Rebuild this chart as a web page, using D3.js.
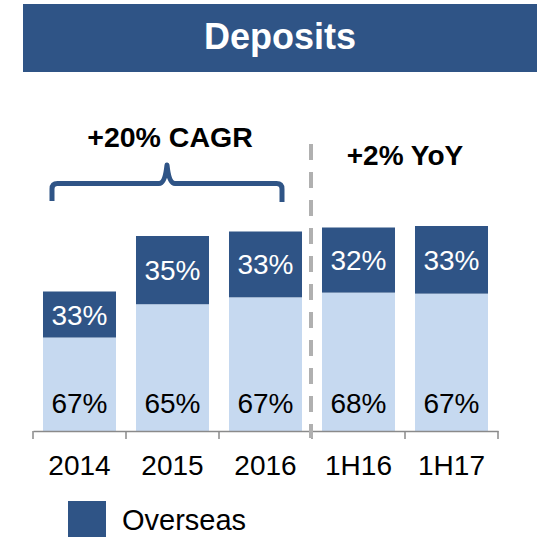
<!DOCTYPE html>
<html>
<head>
<meta charset="utf-8">
<script src="https://cdn.jsdelivr.net/npm/d3@7"></script>
<style>
  html, body { margin: 0; padding: 0; background: #fff; }
  svg { display: block; font-family: "Liberation Sans", Arial, sans-serif; }
</style>
</head>
<body>
<svg id="chart" width="537" height="537"></svg>
<script>
// Deposits by period: total balance (index units) and the domestic / overseas split in %
const categories = ["2014", "2015", "2016", "1H16", "1H17"];
const totals = [139.5, 195, 199.5, 203.5, 205];
const domesticShare = [67, 65, 67, 68, 67];
const overseasShare = [33, 35, 33, 32, 33];
const legendLabels = ["Overseas"];
const titleText = "Deposits";
const cagrText = "+20% CAGR";
const yoyText = "+2% YoY";

const DARK = "#2f5486";
const LIGHT = "#c6d9f0";
const AXIS = "#8a8a8a";

const svg = d3.select("#chart");

// Title banner
svg.append("rect").attr("x", 23).attr("y", 4).attr("width", 514).attr("height", 68).attr("fill", DARK);
svg.append("text").attr("x", 280).attr("y", 49).attr("text-anchor", "middle")
  .attr("font-size", 36).attr("font-weight", "bold").attr("fill", "#fff").text(titleText);

// Scales
const x = d3.scaleBand().domain(categories).range([33, 498]).paddingInner(0.215).paddingOuter(0.1075);
const y = d3.scaleLinear().domain([0, 250]).range([431, 181]);

const rows = categories.map((c, i) => {
  const dom = totals[i] * domesticShare[i] / 100;
  const ovs = totals[i] * overseasShare[i] / 100;
  return { cat: c, dom, ovs, domPct: domesticShare[i], ovsPct: overseasShare[i] };
});
const stack = d3.stack().keys(["dom", "ovs"])(rows);
const colors = { dom: LIGHT, ovs: DARK };

// Stacked bars
const layers = svg.append("g").selectAll("g").data(stack).join("g").attr("fill", d => colors[d.key]);
layers.selectAll("rect").data(d => d).join("rect")
  .attr("x", d => x(d.data.cat))
  .attr("width", x.bandwidth())
  .attr("y", d => y(d[1]))
  .attr("height", d => y(d[0]) - y(d[1]));

// Segment labels
svg.append("g").selectAll("text").data(stack[1]).join("text")
  .attr("x", d => x(d.data.cat) + x.bandwidth() / 2)
  .attr("y", d => (y(d[0]) + y(d[1])) / 2 + 10)
  .attr("text-anchor", "middle").attr("font-size", 28).attr("fill", "#fff")
  .text(d => d.data.ovsPct + "%");
svg.append("g").selectAll("text").data(stack[0]).join("text")
  .attr("x", d => x(d.data.cat) + x.bandwidth() / 2)
  .attr("y", 413)
  .attr("text-anchor", "middle").attr("font-size", 28).attr("fill", "#000")
  .text(d => d.data.domPct + "%");

// Category axis
const axis = svg.append("g").attr("transform", "translate(0,431)")
  .call(d3.axisBottom(x).tickSize(0).tickPadding(24));
axis.select(".domain").attr("stroke", AXIS).attr("stroke-width", 1.5);
axis.selectAll("text").attr("font-size", 28).attr("fill", "#000")
  .attr("font-family", "'Liberation Sans', Arial, sans-serif");
const bounds = d3.range(categories.length + 1).map(i => x.range()[0] + i * x.step());
axis.selectAll("line.sep").data(bounds).join("line").attr("class", "sep")
  .attr("x1", d => d).attr("x2", d => d).attr("y1", 0).attr("y2", 8)
  .attr("stroke", AXIS).attr("stroke-width", 1.5);

// Divider between annual and half-year figures
svg.append("line").attr("x1", 311).attr("x2", 311).attr("y1", 144).attr("y2", 438)
  .attr("stroke", "#b0b0b0").attr("stroke-width", 4).attr("stroke-dasharray", "16,12");

// Growth bracket over the annual bars
svg.append("path")
  .attr("d", "M52,201 V189 Q52,183.5 57.5,183.5 H159 Q165,183.5 167,165 Q169,183.5 175,183.5 H276.5 Q282,183.5 282,189 V202")
  .attr("fill", "none").attr("stroke", DARK).attr("stroke-width", 5).attr("stroke-linejoin", "round");

svg.append("text").attr("x", 170).attr("y", 147).attr("text-anchor", "middle")
  .attr("font-size", 28.5).attr("font-weight", "bold").attr("fill", "#000").text(cagrText);
svg.append("text").attr("x", 405).attr("y", 165).attr("text-anchor", "middle")
  .attr("font-size", 28).attr("font-weight", "bold").attr("fill", "#000").text(yoyText);

// Legend
svg.append("rect").attr("x", 68).attr("y", 501).attr("width", 38).attr("height", 36).attr("fill", DARK);
svg.append("text").attr("x", 122).attr("y", 530).attr("font-size", 29).attr("fill", "#000").text(legendLabels[0]);
</script>
</body>
</html>
